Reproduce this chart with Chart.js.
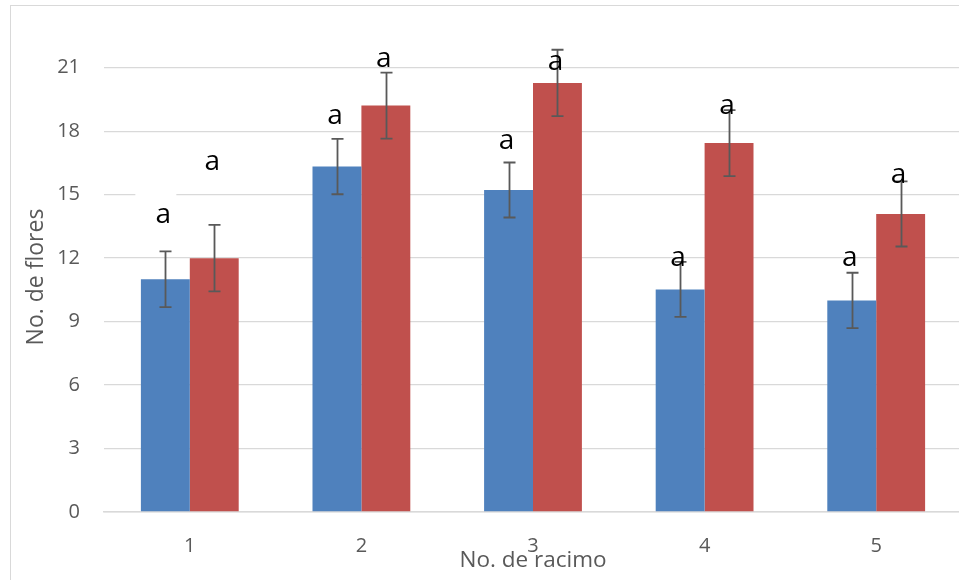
<!DOCTYPE html>
<html>
<head>
<meta charset="utf-8">
<script src="https://cdn.jsdelivr.net/npm/chart.js@4.4.1/dist/chart.umd.min.js"></script>
<style>
  html, body { margin: 0; padding: 0; background: #fff; overflow: hidden; }
  #frame { position: absolute; left: 10px; top: 5px; width: 990px; height: 620px;
           border-left: 1.5px solid #d9d9d9; border-top: 1.5px solid #d9d9d9; }
  #wrap { position: absolute; left: 0; top: 0; width: 975px; height: 580px; }
</style>
</head>
<body>
<div id="frame"></div>
<div id="wrap"><canvas id="c"></canvas></div>
<script>
// Flowers per raceme: mean and error for each treatment
const categories = ['1', '2', '3', '4', '5'];
const blueMeans  = [11.0, 16.33, 15.22, 10.52, 10.0];
const blueErrors = [1.32, 1.31, 1.30, 1.30, 1.31];
const redMeans   = [12.0, 19.21, 20.28, 17.44, 14.09];
const redErrors  = [1.57, 1.56, 1.57, 1.56, 1.54];

// Significance letters and the value at which each one sits
const blueLetters  = ['a', 'a', 'a', 'a', 'a'];
const redLetters   = ['a', 'a', 'a', 'a', 'a'];
const blueLetterAt = [14.0, 18.7, 17.5, 12.0, 12.0];
const redLetterAt  = [16.5, 21.4, 21.25, 19.15, 15.9];

const yTicks = [0, 3, 6, 9, 12, 15, 18, 21];

const FONT = "'Open Sans', 'Noto Sans', sans-serif";
const GREY_TEXT = '#595959';
const GRID = '#d9d9d9';

// The first blue letter sits in its own opaque text box
const boxedLetters = [{ dataset: 0, index: 0 }];

const errorBarsAndLetters = {
  id: 'errorBarsAndLetters',
  beforeDatasetsDraw(chart) {
    const ctx = chart.ctx, y = chart.scales.y;
    ctx.save();
    ctx.fillStyle = '#ffffff';
    boxedLetters.forEach(({ dataset, index }) => {
      const ds = chart.data.datasets[dataset];
      const bar = chart.getDatasetMeta(dataset).data[index];
      const cy = y.getPixelForValue(ds.letterAt[index]);
      ctx.fillRect(bar.x - 30, cy - 24, 41, 46);
    });
    ctx.restore();
  },
  afterDatasetsDraw(chart) {
    const ctx = chart.ctx, y = chart.scales.y;
    ctx.save();
    // error bars
    ctx.strokeStyle = '#595959';
    ctx.lineWidth = 1.8;
    chart.data.datasets.forEach((ds, di) => {
      chart.getDatasetMeta(di).data.forEach((bar, i) => {
        const v = ds.data[i], e = ds.errors[i];
        const yt = y.getPixelForValue(v + e), yb = y.getPixelForValue(v - e);
        const x = Math.round(bar.x) + 0.5;
        ctx.beginPath();
        ctx.moveTo(x, yt); ctx.lineTo(x, yb);
        ctx.moveTo(x - 6, yt); ctx.lineTo(x + 6, yt);
        ctx.moveTo(x - 6, yb); ctx.lineTo(x + 6, yb);
        ctx.stroke();
      });
    });
    // letters
    ctx.fillStyle = '#000000';
    ctx.font = `28px ${FONT}`;
    ctx.textAlign = 'center';
    ctx.textBaseline = 'alphabetic';
    chart.data.datasets.forEach((ds, di) => {
      chart.getDatasetMeta(di).data.forEach((bar, i) => {
        const txt = ds.letters[i];
        const m = ctx.measureText(txt);
        const cy = y.getPixelForValue(ds.letterAt[i]);
        ctx.fillText(txt, bar.x - 2, cy + m.actualBoundingBoxAscent / 2);
      });
    });
    ctx.restore();
  },
  afterDraw(chart) {
    // vertical axis title
    const ctx = chart.ctx;
    ctx.save();
    ctx.translate(43, 277);
    ctx.rotate(-Math.PI / 2);
    ctx.font = `23px ${FONT}`;
    ctx.fillStyle = GREY_TEXT;
    ctx.textAlign = 'center';
    ctx.textBaseline = 'alphabetic';
    ctx.fillText('No. de flores', 0, 0);
    ctx.restore();
  }
};

new Chart(document.getElementById('c'), {
  type: 'bar',
  data: {
    labels: categories,
    datasets: [
      { data: blueMeans, errors: blueErrors, letters: blueLetters, letterAt: blueLetterAt,
        backgroundColor: '#4f81bd', borderWidth: 0 },
      { data: redMeans, errors: redErrors, letters: redLetters, letterAt: redLetterAt,
        backgroundColor: '#c0504d', borderWidth: 0 }
    ]
  },
  options: {
    responsive: true,
    maintainAspectRatio: false,
    animation: false,
    devicePixelRatio: 1,
    layout: { padding: { left: 0, top: 3, right: 13, bottom: 6 } },
    datasets: { bar: { categoryPercentage: 0.57, barPercentage: 1.0 } },
    plugins: { legend: { display: false }, tooltip: { enabled: false } },
    scales: {
      x: {
        grid: { display: false, drawTicks: false },
        border: { display: true, color: GRID, width: 1.5 },
        ticks: { color: GREY_TEXT, font: { family: FONT, size: 20 }, padding: 22 },
        title: { display: true, text: 'No. de racimo', color: GREY_TEXT,
                 font: { family: FONT, size: 22.5 }, padding: { top: 0, bottom: 0 } },
        afterFit(scale) { scale.height = 62; }
      },
      y: {
        min: 0,
        max: 22.5,
        afterBuildTicks(scale) { scale.ticks = yTicks.map(v => ({ value: v })); },
        grid: { color: GRID, lineWidth: 1.3, drawTicks: false },
        border: { display: false },
        ticks: { color: GREY_TEXT, font: { family: FONT, size: 20 }, padding: 24 },
        afterFit(scale) { scale.width = 104; }
      }
    }
  },
  plugins: [errorBarsAndLetters]
});
</script>
</body>
</html>
